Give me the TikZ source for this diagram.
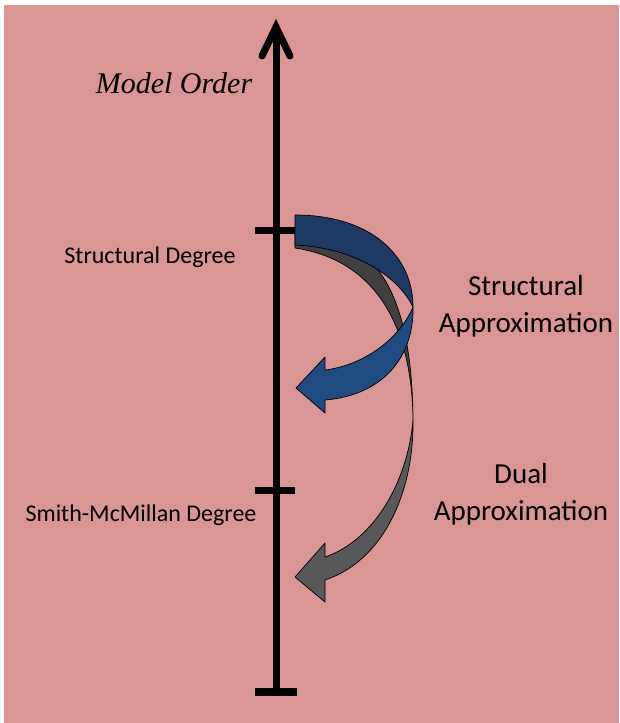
\documentclass[tikz,border=0pt]{standalone}
\usepackage{fontspec}
\setmainfont{Carlito}
\newfontfamily\mofont{Liberation Serif}
\definecolor{bgpink}{RGB}{218,149,149}
\definecolor{blueback}{RGB}{30,58,100}
\definecolor{bluefront}{RGB}{31,75,128}
\definecolor{grayback}{RGB}{64,64,64}
\definecolor{grayfront}{RGB}{88,88,88}
\begin{document}
\begin{tikzpicture}[x=1pt,y=-1pt,
  axisline/.style={line width=7pt,black},
  band/.style={draw=black,line width=0.7pt,line join=round},
  lbl/.style={font=\fontsize{24}{28}\selectfont,anchor=center,inner sep=0pt},
  biglbl/.style={font=\fontsize{29}{37}\selectfont,align=center,inner sep=0pt}]
\useasboundingbox (0,0) rectangle (619,723);
\fill[bgpink] (4,5) rectangle (619,723);
% axis
\coordinate (top) at (276,27);
\coordinate (bot) at (276,692);
\draw[axisline] (bot) -- (top);
\draw[axisline,line cap=round,miter limit=10] (262,56) -- (top) -- (290,56);
\draw[line width=8pt] (255,692) -- (297,692);
\coordinate (t1) at (276,230);
\coordinate (t2) at (276,490);
\draw[axisline] ([xshift=-21pt]t1) -- ([xshift=19pt]t1);
\draw[axisline] ([xshift=-21pt]t2) -- ([xshift=19pt]t2);
% gray arrow (back part)
\fill[grayback,band] (295,232) .. controls (380,232) and (412,300) .. (413,420)
  .. controls (412,325) and (375,260) .. (295,248) -- cycle;
% gray arrow (front part)
\fill[grayfront,band] (413,420) .. controls (414,490) and (385,560) .. (325,580)
  -- (325,602) -- (295,577) -- (325,543) -- (325,557)
  .. controls (375,540) and (408,480) .. (413,420) -- cycle;
% blue arrow (back part)
\fill[blueback,band] (295,215) .. controls (370,215) and (413,255) .. (413,307)
  .. controls (400,280) and (360,248) .. (295,245) -- cycle;
% blue arrow (front part)
\fill[bluefront,band] (413,307) .. controls (414,355) and (385,395) .. (325,400)
  -- (325,413) -- (296,388) -- (325,357) -- (325,370)
  .. controls (365,365) and (400,338) .. (413,307) -- cycle;
% labels
\node[font=\mofont\itshape\fontsize{30}{34}\selectfont,inner sep=0pt] (mo) at (174,83) {Model Order};
\node[lbl] (sd) at (150,257) {Structural Degree};
\node[lbl] (smd) at (141,515) {Smith-McMillan Degree};
\node[biglbl] (sa) at (526,306) {Structural\\Approximation};
\node[biglbl] (da) at (521,494) {Dual\\Approximation};
\end{tikzpicture}
\end{document}
